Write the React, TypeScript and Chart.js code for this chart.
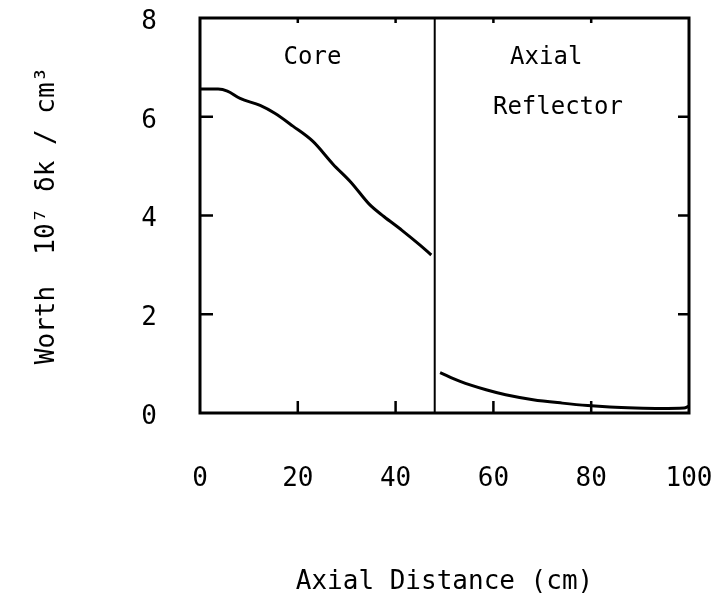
import React, { useEffect, useRef } from 'react';
import { Chart, registerables } from 'chart.js';

Chart.register(...registerables);

// Axial distance (cm) and worth (10^7 δk/cm^3)
const coreX = [0, 3.7, 5.6, 8.2, 12.3, 15.3, 19.0, 23.1, 27.2, 30.9, 34.6, 37.6, 41.3, 45.0, 47.3];
const coreY = [6.56, 6.56, 6.52, 6.37, 6.23, 6.07, 5.81, 5.5, 5.04, 4.67, 4.23, 3.98, 3.7, 3.4, 3.2];
const reflX = [49.1, 53.2, 58.5, 62.5, 68.1, 74.1, 79.3, 83.8, 89.0, 94.2, 99.0, 100];
const reflY = [0.82, 0.64, 0.47, 0.37, 0.27, 0.2, 0.15, 0.12, 0.1, 0.09, 0.1, 0.14];
const boundaryX = 48;

const xTicks = [0, 20, 40, 60, 80, 100];
const yTicks = [0, 2, 4, 6, 8];
const xTitle = 'Axial Distance (cm)';
const yTitle = 'Worth  10⁷ δk / cm³';
const regionNames = ['Core', 'Axial', 'Reflector'];
const regionX = [23, 70.8, 73.2];
const regionY = [7.2, 7.2, 6.18];

const FONT = "'DejaVu Sans Mono', monospace";

const framePlugin = {
  id: 'frameTicks',
  afterDatasetsDraw(chart: any) {
    const { ctx, chartArea: a, scales } = chart;
    const xs = scales.x;
    const ys = scales.y;
    ctx.save();
    ctx.strokeStyle = '#000';
    ctx.lineWidth = 3;
    ctx.strokeRect(a.left, a.top, a.right - a.left, a.bottom - a.top);
    ctx.lineWidth = 2.5;
    ctx.beginPath();
    xs.ticks.forEach((t: any) => {
      if (t.value <= xs.min || t.value >= xs.max) return;
      const px = xs.getPixelForValue(t.value);
      ctx.moveTo(px, a.bottom);
      ctx.lineTo(px, a.bottom - 12);
      ctx.moveTo(px, a.top);
      ctx.lineTo(px, a.top + 5);
    });
    ys.ticks.forEach((t: any) => {
      if (t.value <= ys.min || t.value >= ys.max) return;
      const py = ys.getPixelForValue(t.value);
      ctx.moveTo(a.left, py);
      ctx.lineTo(a.left + 13, py);
      ctx.moveTo(a.right, py);
      ctx.lineTo(a.right - 11, py);
    });
    ctx.stroke();
    ctx.fillStyle = '#000';
    ctx.font = `24px ${FONT}`;
    ctx.textAlign = 'center';
    ctx.textBaseline = 'middle';
    regionNames.forEach((name, i) => {
      ctx.fillText(name, xs.getPixelForValue(regionX[i]), ys.getPixelForValue(regionY[i]));
    });
    ctx.restore();
  },
};

export default function App() {
  const ref = useRef<HTMLCanvasElement>(null);
  useEffect(() => {
    if (!ref.current) return;
    const chart = new Chart(ref.current, {
      type: 'line',
      data: {
        datasets: [
          {
            data: coreX.map((x, i) => ({ x, y: coreY[i] })),
            borderColor: '#000',
            borderWidth: 3,
            pointRadius: 0,
            cubicInterpolationMode: 'monotone',
          },
          {
            data: reflX.map((x, i) => ({ x, y: reflY[i] })),
            borderColor: '#000',
            borderWidth: 3,
            pointRadius: 0,
            cubicInterpolationMode: 'monotone',
          },
          {
            data: [
              { x: boundaryX, y: yTicks[0] },
              { x: boundaryX, y: yTicks[yTicks.length - 1] },
            ],
            borderColor: '#000',
            borderWidth: 2,
            pointRadius: 0,
          },
        ],
      },
      plugins: [framePlugin],
      options: {
        animation: false,
        responsive: false,
        devicePixelRatio: 1,
        layout: { padding: { top: 18, right: 33, left: 0, bottom: 0 } },
        plugins: { legend: { display: false }, tooltip: { enabled: false } },
        scales: {
          x: {
            type: 'linear',
            min: xTicks[0],
            max: xTicks[xTicks.length - 1],
            afterBuildTicks: (s: any) => {
              s.ticks = xTicks.map((v) => ({ value: v }));
            },
            afterFit: (s: any) => {
              s.height = 186;
              s.paddingLeft = 0;
              s.paddingRight = 0;
            },
            grid: { display: false },
            border: { display: false },
            ticks: {
              padding: 43,
              color: '#000',
              maxRotation: 0,
              autoSkip: false,
              font: { family: FONT, size: 26 },
            },
            title: {
              display: true,
              text: xTitle,
              color: '#000',
              font: { family: FONT, size: 26 },
              padding: { top: 0, bottom: 1 },
            },
          },
          y: {
            type: 'linear',
            min: yTicks[0],
            max: yTicks[yTicks.length - 1],
            afterBuildTicks: (s: any) => {
              s.ticks = yTicks.map((v) => ({ value: v }));
            },
            afterFit: (s: any) => {
              s.width = 200;
              s.paddingTop = 0;
              s.paddingBottom = 0;
            },
            grid: { display: false },
            border: { display: false },
            ticks: {
              padding: 35,
              labelOffset: 4,
              color: '#000',
              font: { family: FONT, size: 26 },
            },
            title: {
              display: true,
              text: yTitle,
              color: '#000',
              font: { family: FONT, size: 26 },
              padding: { top: 32, bottom: 0 },
            },
          },
        },
      } as any,
    });
    return () => chart.destroy();
  }, []);
  return (
    <div style={{ position: 'absolute', left: 0, top: 0, width: 722, height: 599, background: '#fff' }}>
      <canvas ref={ref} width={722} height={599} style={{ display: 'block' }} />
    </div>
  );
}
